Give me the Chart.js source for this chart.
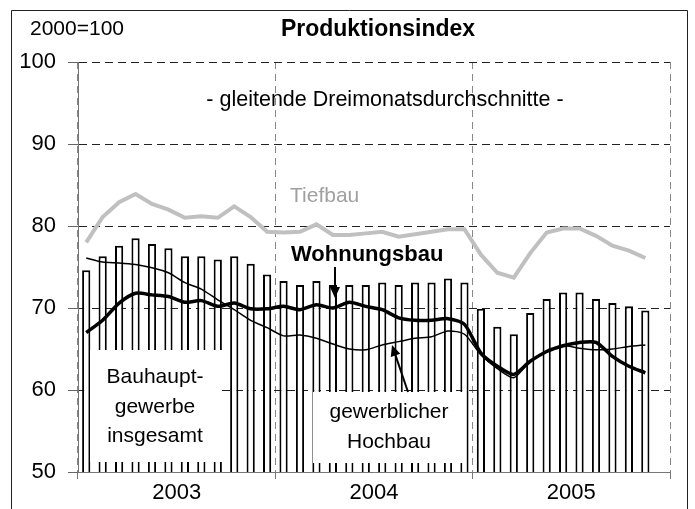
<!DOCTYPE html>
<html>
<head>
<meta charset="utf-8">
<script src="https://cdn.jsdelivr.net/npm/chart.js@4.4.0/dist/chart.umd.min.js"></script>
<style>
html, body { margin: 0; padding: 0; background: #fff; }
#wrap { width: 695px; height: 509px; position: relative; }
</style>
</head>
<body>
<div id="wrap"><canvas id="prodChart"></canvas></div>
<script>
var years = ['2003', '2004', '2005'];
var monthNames = ['Jan', 'Feb', 'Mrz', 'Apr', 'Mai', 'Jun', 'Jul', 'Aug', 'Sep', 'Okt', 'Nov', 'Dez'];

// Bauhauptgewerbe insgesamt (bars)
var bauhauptgewerbe = [
    74.6, 76.3, 77.6, 78.5, 77.8, 77.3, 76.3, 76.3, 75.9, 76.3, 75.4, 74.1,
    73.3, 72.8, 73.3, 72.8, 72.8, 72.8, 73.1, 72.8, 73.1, 73.1, 73.6, 73.1,
    69.9, 67.7, 66.8, 69.4, 71.1, 71.9, 71.9, 71.1, 70.6, 70.2, 69.7, null
];
var tiefbau = [
    78.0, 81.1, 82.9, 83.9, 82.7, 82.0, 81.0, 81.2, 81.0, 82.4, 81.1, 79.3,
    79.2, 79.3, 80.2, 78.9, 78.9, 79.1, 79.3, 78.7, 79.0, 79.3, 79.6, 79.6,
    76.5, 74.3, 73.7, 76.7, 79.2, 79.7, 79.7, 78.8, 77.6, 77.0, 76.1, null
];
var hochbau = [
    76.1, 75.6, 75.5, 75.3, 74.9, 74.3, 73.1, 72.3, 71.0, 69.8, 68.5, 67.6,
    66.6, 66.7, 66.3, 65.6, 65.0, 64.9, 65.5, 65.9, 66.3, 66.5, 67.2, 66.8,
    64.3, 62.6, 61.5, 63.5, 64.7, 65.4, 65.1, 64.9, 65.0, 65.3, 65.5, null
];
var wohnungsbau = [
    67.0, 68.5, 70.6, 71.8, 71.6, 71.4, 70.7, 70.9, 70.2, 70.6, 69.9, 69.9,
    70.2, 69.8, 70.4, 70.0, 70.7, 70.2, 69.8, 68.8, 68.5, 68.5, 68.7, 68.0,
    64.5, 62.9, 61.9, 63.5, 64.7, 65.4, 65.8, 65.8, 64.1, 62.9, 62.1, null
];

var yMin = 50, yMax = 100, yStep = 10;

var labels = [];
years.forEach(function(y) {
    monthNames.forEach(function(m) { labels.push(m + ' ' + y); });
});

var FONT = 'Arial, "Liberation Sans", sans-serif';

function arrow(ctx, x1, y1, x2, y2) {
    var a = Math.atan2(y2 - y1, x2 - x1);
    ctx.beginPath();
    ctx.moveTo(x1, y1);
    ctx.lineTo(x2 - 6 * Math.cos(a), y2 - 6 * Math.sin(a));
    ctx.stroke();
    ctx.beginPath();
    ctx.moveTo(x2, y2);
    ctx.lineTo(x2 - 11 * Math.cos(a) + 5 * Math.sin(a), y2 - 11 * Math.sin(a) - 5 * Math.cos(a));
    ctx.lineTo(x2 - 11 * Math.cos(a) - 5 * Math.sin(a), y2 - 11 * Math.sin(a) + 5 * Math.cos(a));
    ctx.closePath();
    ctx.fill();
}

var overlay = {
    id: 'overlay',
    afterDatasetDraw: function(chart, args) {
        if (args.index !== 0) return; // right after the bars
        var ctx = chart.ctx;
        ctx.save();
        ctx.fillStyle = '#fff';
        ctx.fillRect(90, 350, 132, 112);
        ctx.fillRect(313, 392, 152, 71);
        ctx.fillStyle = '#000';
        ctx.font = '21px ' + FONT;
        ctx.textAlign = 'center';
        ctx.textBaseline = 'middle';
        ctx.fillText('Bauhaupt-', 155, 377);
        ctx.fillText('gewerbe', 155, 407);
        ctx.fillText('insgesamt', 155, 436);
        ctx.fillText('gewerblicher', 389, 412);
        ctx.fillText('Hochbau', 389, 442);
        ctx.restore();
    },
    afterDraw: function(chart) {
        var ctx = chart.ctx;
        ctx.save();
        // outer frame
        ctx.strokeStyle = '#222';
        ctx.lineWidth = 1;
        ctx.beginPath();
        ctx.moveTo(11.5, 520);
        ctx.lineTo(11.5, 10.5);
        ctx.lineTo(687.5, 10.5);
        ctx.lineTo(687.5, 520);
        ctx.stroke();

        ctx.fillStyle = '#000';
        ctx.textBaseline = 'middle';
        ctx.textAlign = 'left';
        ctx.font = '21px ' + FONT;
        ctx.fillText('2000=100', 30, 29);
        ctx.textAlign = 'center';
        ctx.font = 'bold 23px ' + FONT;
        ctx.fillText('Produktionsindex', 378, 30);
        ctx.font = '21.5px ' + FONT;
        ctx.fillText('- gleitende Dreimonatsdurchschnitte -', 385, 100);

        ctx.textAlign = 'left';
        ctx.fillStyle = '#a0a0a0';
        ctx.font = '21px ' + FONT;
        ctx.fillText('Tiefbau', 290, 196);
        ctx.fillStyle = '#000';
        ctx.font = 'bold 22px ' + FONT;
        ctx.fillText('Wohnungsbau', 291, 255);

        ctx.strokeStyle = '#000';
        ctx.lineWidth = 2;
        arrow(ctx, 335, 267, 335, 298);
        arrow(ctx, 408, 392, 392, 345);
        ctx.restore();
    }
};

var ctx = document.getElementById('prodChart').getContext('2d');
var prodChart = new Chart(ctx, {
    type: 'bar',
    data: {
        labels: labels,
        datasets: [{
            label: 'Bauhauptgewerbe insgesamt',
            data: bauhauptgewerbe,
            backgroundColor: '#fff',
            borderColor: '#000',
            borderWidth: 2,
            barPercentage: 0.5,
            categoryPercentage: 1,
            order: 4
        }, {
            type: 'line',
            label: 'Tiefbau',
            data: tiefbau,
            borderColor: '#c0c0c0',
            borderWidth: 4,
            pointRadius: 0,
            tension: 0,
            order: 3
        }, {
            type: 'line',
            label: 'gewerblicher Hochbau',
            data: hochbau,
            borderColor: '#000',
            borderWidth: 1.5,
            pointRadius: 0,
            tension: 0.25,
            order: 2
        }, {
            type: 'line',
            label: 'Wohnungsbau',
            data: wohnungsbau,
            borderColor: '#000',
            borderWidth: 3.5,
            pointRadius: 0,
            tension: 0.25,
            order: 1
        }]
    },
    options: {
        responsive: true,
        maintainAspectRatio: false,
        animation: false,
        events: [],
        layout: { padding: { top: 62, right: 25, left: 0, bottom: 0 } },
        plugins: {
            legend: { display: false },
            tooltip: { enabled: false }
        },
        scales: {
            x: {
                type: 'category',
                display: false,
                offset: true
            },
            x2: {
                type: 'category',
                labels: years,
                position: 'bottom',
                offset: true,
                grid: {
                    offset: true,
                    color: '#888',
                    lineWidth: 1,
                    tickLength: 7,
                    tickColor: '#777',
                    tickBorderDash: []
                },
                border: { color: '#777', width: 1, dash: [7, 5] },
                ticks: {
                    color: '#000',
                    font: { family: FONT, size: 22 },
                    padding: 1,
                    maxRotation: 0
                },
                afterFit: function(scale) { scale.height = 37; }
            },
            y: {
                min: yMin,
                max: yMax,
                ticks: {
                    stepSize: yStep,
                    color: '#000',
                    font: { family: FONT, size: 22 },
                    padding: 12
                },
                grid: {
                    color: function(c) { return c.tick && c.tick.value === yMin ? 'rgba(0,0,0,0)' : '#222'; },
                    lineWidth: 1,
                    tickLength: 10,
                    tickColor: '#666',
                    tickBorderDash: []
                },
                border: { color: '#777', width: 1, dash: [8, 5] },
                afterFit: function(scale) { scale.width = 78; }
            }
        }
    },
    plugins: [overlay]
});
</script>
</body>
</html>
